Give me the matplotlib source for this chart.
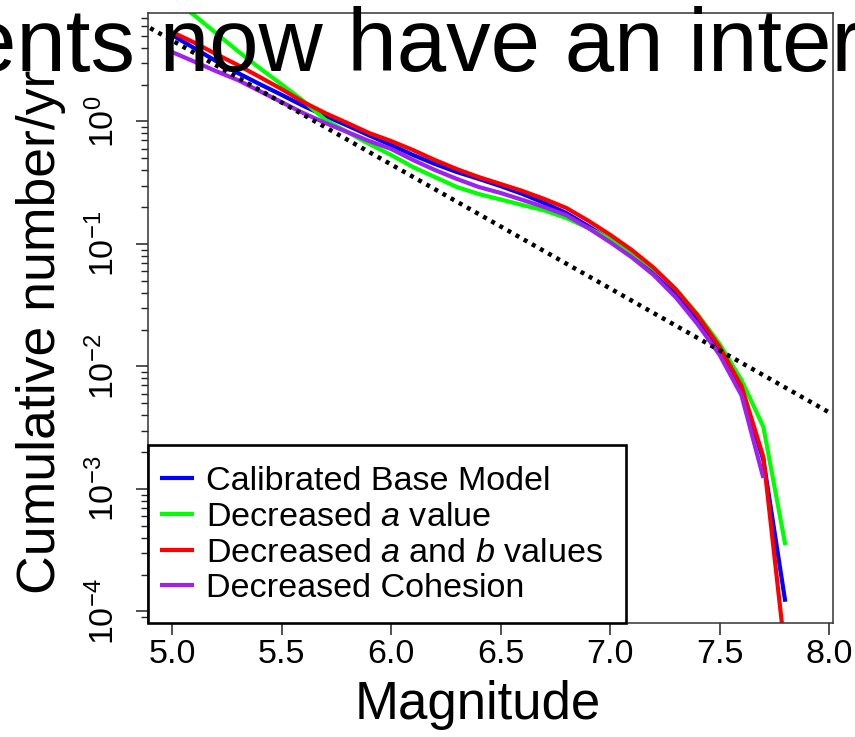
import numpy as np
import matplotlib
matplotlib.use("Agg")
import matplotlib.pyplot as plt
from matplotlib.patches import Rectangle
from matplotlib.ticker import LogLocator, NullFormatter

plt.rcParams['font.family'] = ['Liberation Sans', 'DejaVu Sans']
plt.rcParams['mathtext.fontset'] = 'custom'
plt.rcParams['mathtext.rm'] = 'Liberation Sans'
plt.rcParams['mathtext.it'] = 'Liberation Sans:italic'
plt.rcParams['mathtext.default'] = 'regular'

# magnitude bins
magnitude = [5.0, 5.1, 5.2, 5.3, 5.4, 5.5, 5.6, 5.7, 5.8, 5.9, 6.0, 6.1, 6.2, 6.3, 6.4,
             6.5, 6.6, 6.7, 6.8, 6.9, 7.0, 7.1, 7.2, 7.3, 7.4, 7.5, 7.6, 7.7, 7.8]

base_model = [5.08, 3.98, 3.12, 2.49, 2.02, 1.65, 1.34, 1.11, 0.927, 0.769, 0.643, 0.533,
              0.450, 0.387, 0.340, 0.297, 0.256, 0.216, 0.179, 0.140, 0.108, 0.0822,
              0.0596, 0.0398, 0.0245, 0.0140, 0.00646, 0.00173, 0.000120]
decreased_a = [10.0, 7.4, 5.28, 3.76, 2.73, 2.01, 1.47, 1.03, 0.821, 0.655, 0.533, 0.425,
               0.352, 0.292, 0.256, 0.231, 0.208, 0.188, 0.163, 0.135, 0.1096, 0.0851,
               0.0624, 0.0427, 0.0266, 0.0153, 0.00776, 0.00321, 0.000349]
decreased_ab = [5.38, 4.42, 3.56, 2.89, 2.31, 1.84, 1.44, 1.17, 0.973, 0.805, 0.693, 0.585,
                0.485, 0.409, 0.352, 0.309, 0.271, 0.233, 0.197, 0.155, 0.119, 0.0891,
                0.0638, 0.0427, 0.0260, 0.01445, 0.00692, 0.00182, 0.000045]
# cohesion curve stops at M 7.7
decreased_cohesion = [3.69, 3.09, 2.58, 2.18, 1.77, 1.44, 1.17, 0.972, 0.821, 0.693, 0.597,
                      0.485, 0.402, 0.340, 0.292, 0.261, 0.229, 0.200, 0.172, 0.135, 0.1035,
                      0.0776, 0.0556, 0.0367, 0.0221, 0.01245, 0.00582, 0.00123]

# Gutenberg-Richter reference line (dotted), end points
gr_mag = [4.9, 8.0]
gr_rate = [5.79, 0.00422]

labels = ['Calibrated Base Model', 'Decreased $\\mathit{a}$ value',
          'Decreased $\\mathit{a}$ and $\\mathit{b}$ values', 'Decreased Cohesion']
colors = ['#0000FF', '#00FF00', '#FF0000', '#A020F0']

xticks = [5.0, 5.5, 6.0, 6.5, 7.0, 7.5, 8.0]
yticks = [1e-4, 1e-3, 1e-2, 1e-1, 1e0]
ytick_labels = ['$10^{-4}$', '$10^{-3}$', '$10^{-2}$', '$10^{-1}$', '$10^{0}$']

fig = plt.figure(figsize=(8.55, 7.37), dpi=100)
ax = fig.add_axes([0.1731, 0.1547, 0.8012, 0.8277])

series = [base_model, decreased_a, decreased_ab, decreased_cohesion]
for vals, lab, col in zip(series, labels, colors):
    ax.plot(magnitude[:len(vals)], vals, color=col, lw=3, label=lab,
            solid_capstyle='butt', solid_joinstyle='round')
ax.plot(gr_mag, gr_rate, color='black', lw=3.2, linestyle=(0, (0.9, 1.2)))

ax.set_yscale('log')
ax.set_xlim(4.89, 8.018)
ax.set_ylim(10 ** -4.094, 10 ** 0.886)

ax.set_xticks(xticks)
ax.set_xticklabels(['%.1f' % t for t in xticks])
ax.set_yticks(yticks, ytick_labels, rotation=90, va='center')
ax.yaxis.set_minor_locator(LogLocator(base=10, subs=np.arange(2, 10)))
ax.yaxis.set_minor_formatter(NullFormatter())

ax.tick_params(axis='both', which='major', direction='out', length=8.5, width=1.1,
               labelsize=24.5, color='#222222')
ax.tick_params(axis='y', which='major', pad=11)
ax.tick_params(axis='x', which='major', pad=3)
ax.tick_params(axis='y', which='minor', direction='out', length=5, width=1.0,
               color='#222222')
for sp in ax.spines.values():
    sp.set_linewidth(1.1)
    sp.set_color('#333333')

# legend box drawn like the R original: thick frame in the lower left corner
ax.add_patch(Rectangle((0, 0), 478 / 685, 178 / 610, transform=ax.transAxes,
                       facecolor='white', edgecolor='black', lw=1.9, zorder=4,
                       clip_on=False))
leg = ax.legend(loc='upper left', bbox_to_anchor=(12 / 685, 157 / 610),
                borderaxespad=0, borderpad=0, frameon=False,
                fontsize=24.6, handlelength=1.0, handletextpad=0.35,
                labelspacing=0.14)
leg.set_zorder(5)

fig.text(41 / 855, 1 - 332 / 737, 'Cumulative number/yr', rotation=90,
         ha='center', va='center', fontsize=38.5)
fig.text(478 / 855, 1 - 705 / 737, 'Magnitude', ha='center', va='center',
         fontsize=38)

# overlapping caption text cut off at the figure edges
fig.text(-33 / 855, 1 - 71 / 737, 'ents now have an inter', ha='left',
         va='baseline', fontsize=64, color='black')

fig.savefig('out.png', dpi=100)
